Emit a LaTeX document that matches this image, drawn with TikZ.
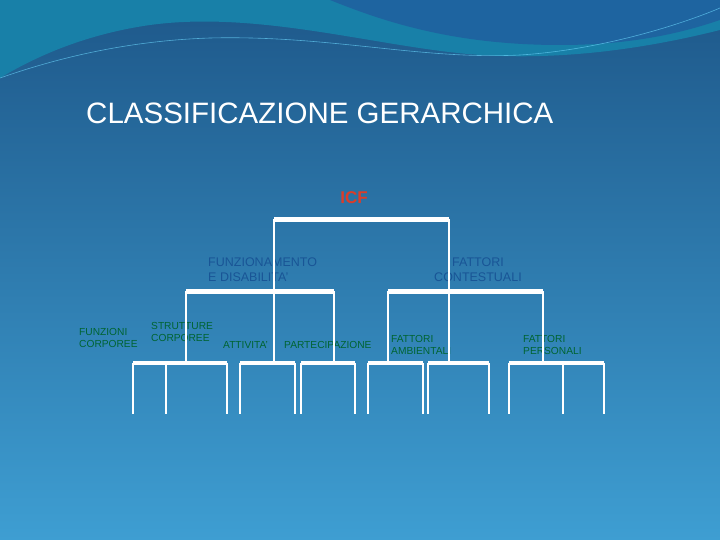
\documentclass[tikz,border=0pt]{standalone}
\usepackage{fontspec}
\setmainfont{Liberation Sans}
\definecolor{bgtop}{RGB}{30,88,138}
\definecolor{bgbot}{RGB}{62,158,210}
\definecolor{band}{RGB}{24,128,168}
\definecolor{band2}{RGB}{30,100,160}
\definecolor{icfred}{RGB}{220,60,40}
\definecolor{lblue}{RGB}{25,85,150}
\definecolor{lgreen}{RGB}{0,100,50}
\begin{document}
\begin{tikzpicture}[x=1pt,y=-1pt,
  bar/.style={line width=5pt,white},
  stem/.style={line width=1.3pt,white},
  grn/.style={text=lgreen,font=\fontsize{10.2}{11.5}\selectfont,align=left,anchor=west,inner sep=0pt},
  blu/.style={text=lblue,font=\fontsize{12.5}{15}\selectfont,align=left,anchor=west,inner sep=0pt}]
\useasboundingbox (0,0) rectangle (720,540);
\shade[top color=bgtop,bottom color=bgbot] (0,0) rectangle (720,540);
\fill[band] (0,0) -- (720,0) -- (720,30) .. controls (640,50) and (560,60) .. (480,55) .. controls (380,48) and (260,10) .. (150,25) .. controls (80,35) and (30,60) .. (0,78) -- cycle;
\fill[band2] (330,0) .. controls (380,20) and (450,45) .. (560,45) .. controls (640,45) and (690,30) .. (720,20) -- (720,0) -- cycle;
\draw[cyan!60!white,line width=0.6pt,opacity=0.7] (0,78) .. controls (80,50) and (150,40) .. (210,38) .. controls (330,35) and (420,60) .. (520,55) .. controls (600,50) and (680,25) .. (720,8);
\node[text=white,font=\fontsize{29.5}{32}\selectfont,anchor=west,inner sep=0pt] (title) at (86,113) {CLASSIFICAZIONE GERARCHICA};
\node[text=icfred,font=\bfseries\fontsize{17}{20}\selectfont,inner sep=0pt] (icf) at (354,198) {ICF};
\node[blu] (fd) at (208,270) {FUNZIONAMENTO\\E DISABILITA'};
\node[blu,align=center,anchor=center] (fc) at (478,270) {FATTORI\\CONTESTUALI};
\node[grn] (n1) at (79,338) {FUNZIONI\\CORPOREE};
\node[grn] (n2) at (151,332) {STRUTTURE\\CORPOREE};
\node[grn] (n3) at (223,345) {ATTIVITA'};
\node[grn] (n4) at (284,345) {PARTECIPAZIONE};
\node[grn] (n5) at (391,345) {FATTORI\\AMBIENTALI};
\node[grn] (n6) at (523,345) {FATTORI\\PERSONALI};
\coordinate (t1) at (274,219.5); \coordinate (t2) at (449,219.5);
\draw[bar] (t1) -- (t2);
\draw[bar] (186,291) -- (334,291);
\draw[bar] (388,291) -- (543,291);
\foreach \a/\b in {133/227,240/295,301/355,368/423,428/489,509/604}
  \draw[bar,line width=3.5pt] (\a,363) -- (\b,363);
\foreach \x in {274,449} \draw[stem] (\x,219) -- (\x,363);
\foreach \x in {186,334,388,543} \draw[stem] (\x,291) -- (\x,363);
\foreach \x in {133,166,227,240,295,301,355,368,423,428,489,509,563,604} \draw[stem] (\x,363) -- (\x,414);
\end{tikzpicture}
\end{document}
